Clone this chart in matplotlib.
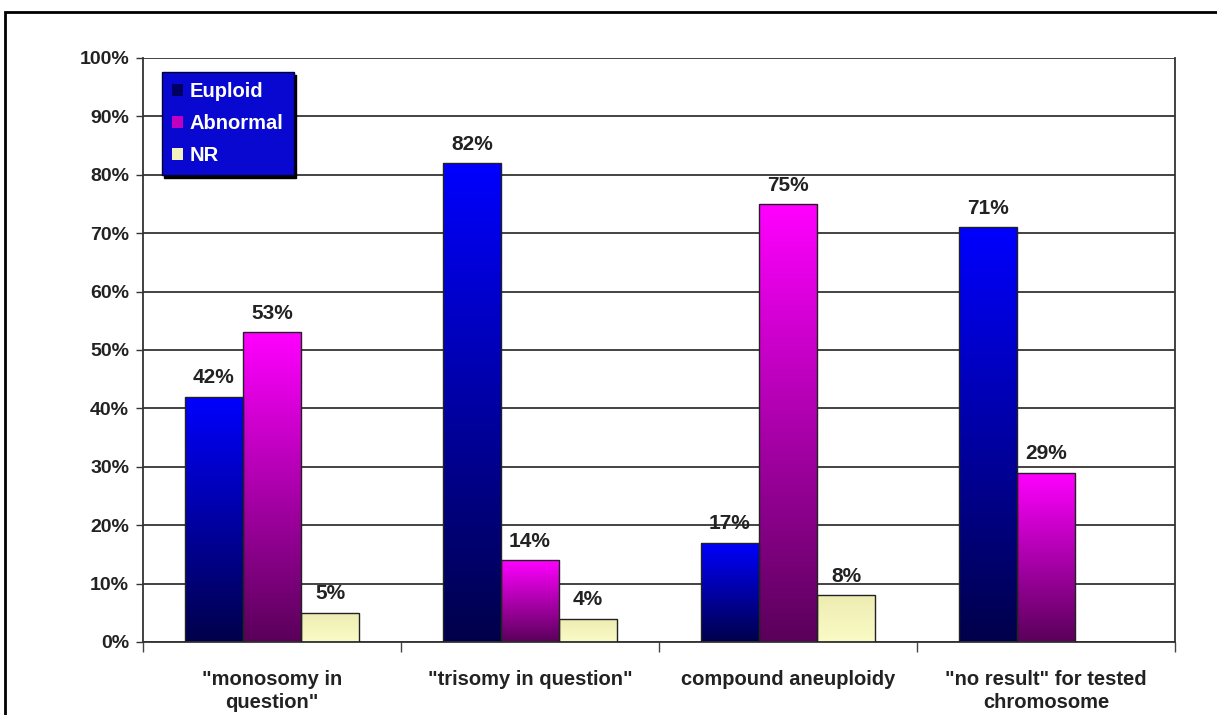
import numpy as np
import matplotlib.pyplot as plt
from matplotlib.patches import Rectangle, Patch
from matplotlib.colors import LinearSegmentedColormap

# data
categories = ['"monosomy in\nquestion"', '"trisomy in question"',
              'compound aneuploidy', '"no result" for tested\nchromosome']
series = ['Euploid', 'Abnormal', 'NR']
euploid = [42, 82, 17, 71]
abnormal = [53, 14, 75, 29]
nr = [5, 4, 8, 0]
yticks = [0, 10, 20, 30, 40, 50, 60, 70, 80, 90, 100]

# gradient colours (bottom -> top)
grads = [('#00004a', '#0000ff'), ('#5a005a', '#ff00ff'), ('#fbfbc6', '#ececb2')]
legend_sw = ['#000060', '#c000c0', '#f2f2c0']

plt.rcParams['font.family'] = ['Liberation Sans', 'DejaVu Sans']
plt.rcParams['font.weight'] = 'bold'

fig = plt.figure(figsize=(12.17, 7.15), dpi=100, facecolor='white')
ax = fig.add_axes([143 / 1217, 1 - 642 / 715, (1175 - 143) / 1217, (642 - 58) / 715])

# outer frame of the slide
fig.patches.append(Rectangle((5 / 1217, -0.2), 2, 1.2 - 12 / 715, transform=fig.transFigure,
                             fill=False, edgecolor='black', linewidth=2.0, zorder=0))

x = np.arange(len(categories))
w = 0.225
vals = [euploid, abnormal, nr]
for i, (v, (c0, c1)) in enumerate(zip(vals, grads)):
    cmap = LinearSegmentedColormap.from_list('g%d' % i, [c0, c1])
    xs = x + (i - 1) * w
    bars = ax.bar(xs, v, width=w, facecolor='none', edgecolor='#222222', linewidth=1.0, zorder=3)
    for b, val in zip(bars, v):
        if val <= 0:
            continue
        bx, by = b.get_x(), b.get_y()
        bw, bh = b.get_width(), b.get_height()
        grad = np.linspace(0, 1, 256).reshape(-1, 1)
        im = ax.imshow(grad, cmap=cmap, origin='lower', aspect='auto',
                       extent=[bx, bx + bw, by, by + bh], zorder=2)
        im.set_clip_path(b)
        ax.text(bx + bw / 2, val + 1.6, '%d%%' % val, ha='center', va='bottom',
                fontsize=15, fontweight='bold', color='#222222', zorder=4)

ax.set_xlim(-0.5, len(categories) - 0.5)
ax.set_ylim(0, 100)
ax.set_yticks(yticks)
ax.set_yticklabels(['%d%%' % t for t in yticks], fontsize=14, fontweight='bold', color='#222222')
ax.yaxis.grid(True, color='#222222', linewidth=1.2, zorder=1)
ax.set_axisbelow(True)

ax.set_xticks(x)
ax.set_xticklabels(categories, fontsize=14.5, fontweight='bold', color='#222222', linespacing=1.3)
ax.tick_params(axis='x', length=0, pad=20)
ax.set_xticks(np.arange(-0.5, len(categories)), minor=True)
ax.tick_params(axis='x', which='minor', length=7, width=1, color='#444444')
ax.tick_params(axis='y', length=5, width=1, color='#333333', pad=5)

for s in ['left', 'right', 'bottom']:
    ax.spines[s].set_color('#333333')
    ax.spines[s].set_linewidth(1.3)
ax.spines['top'].set_visible(False)

# legend
handles = [Patch(facecolor=c, edgecolor='none') for c in legend_sw]
leg = ax.legend(handles, series, loc='upper left', bbox_to_anchor=(0.018, 0.976),
                fontsize=14.5, frameon=True, fancybox=False, shadow={'color': 'black', 'alpha': 1.0},
                facecolor='#0808d0', edgecolor='#000033', handlelength=0.55, handleheight=0.55,
                handletextpad=0.35, labelspacing=0.65, borderpad=0.5, borderaxespad=0)
leg.get_frame().set_alpha(1)
for t in leg.get_texts():
    t.set_color('white')
    t.set_fontweight('bold')

fig.savefig('out.png', dpi=100, facecolor='white')
